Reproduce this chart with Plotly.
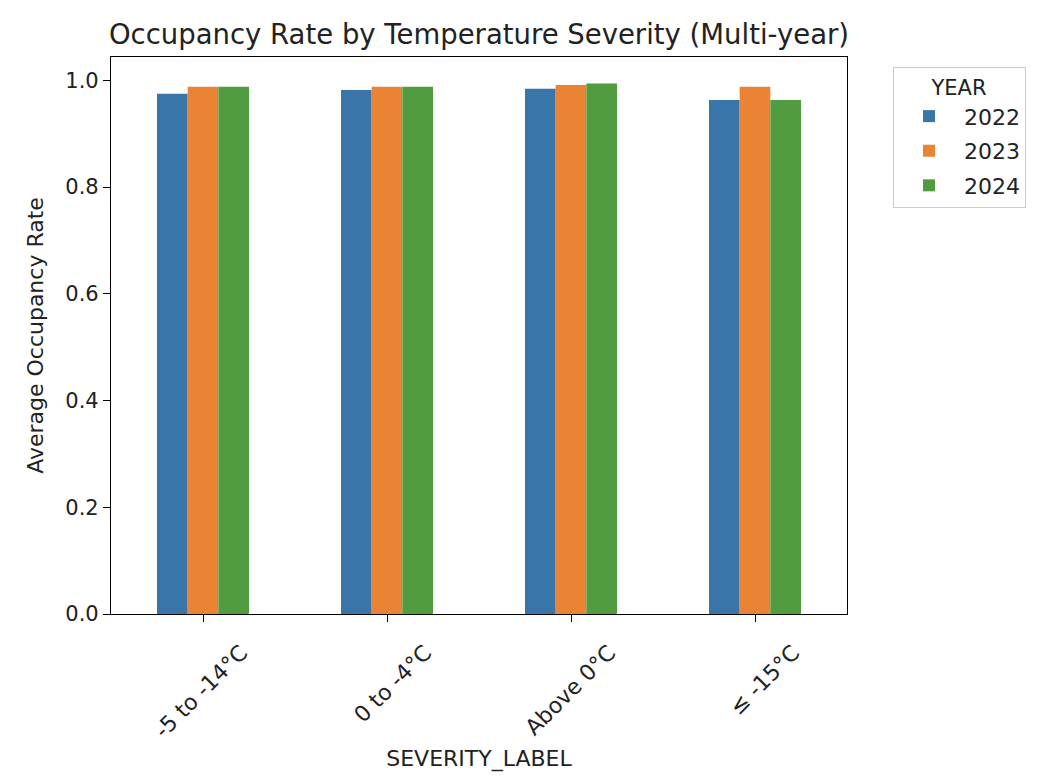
import plotly.graph_objects as go

categories = ["-5 to -14°C", "0 to -4°C", "Above 0°C", "≤ -15°C"]
years = ["2022", "2023", "2024"]
rate_2022 = [0.975, 0.982, 0.984, 0.963]
rate_2023 = [0.988, 0.988, 0.991, 0.988]
rate_2024 = [0.988, 0.988, 0.994, 0.963]
colors = ["#3a75aa", "#ea8334", "#509c3f"]

series = [rate_2022, rate_2023, rate_2024]

fig = go.Figure()
for name, vals, col in zip(years, series, colors):
    fig.add_trace(go.Bar(x=categories, y=vals, name=name, marker_color=col,
                         marker_line_width=0, legendgroup=name))

font = "DejaVu Sans, sans-serif"
fig.update_layout(
    width=1061, height=780,
    margin=dict(l=111, r=214, t=57, b=166),
    paper_bgcolor="white", plot_bgcolor="white",
    barmode="group", bargap=0.5, bargroupgap=0,
    font=dict(family=font, size=22, color="#222222"),
    title=dict(text="Occupancy Rate by Temperature Severity (Multi-year)",
               x=(111 + 847) / 2 / 1061, xanchor="center", y=1 - 34 / 780, yanchor="middle",
               font=dict(size=27.5, color="#222222")),
    legend=dict(title=dict(text="YEAR", side="top center", font=dict(size=21)),
                x=1.0625, xanchor="left", y=0.982, yanchor="top",
                bordercolor="#cccccc", borderwidth=1, font=dict(size=22),
                traceorder="grouped", tracegroupgap=3, itemwidth=60),
)
fig.update_xaxes(showline=True, linecolor="black", linewidth=1.2, mirror=True,
                 ticks="outside", ticklen=7, tickcolor="black", tickangle=-45,
                 ticklabelshift=38, ticklabelstandoff=9, automargin=False,
                 title=dict(text="SEVERITY_LABEL", font=dict(size=22), standoff=8),
                 showgrid=False)
fig.update_yaxes(range=[0, 1.0437], showline=True, linecolor="black", linewidth=1.2, mirror=True,
                 ticks="outside", ticklen=7, tickcolor="black",
                 tickvals=[0, 0.2, 0.4, 0.6, 0.8, 1.0], tickformat=".1f",
                 tickfont=dict(size=21),
                 title=dict(text="Average Occupancy Rate", font=dict(size=22)),
                 showgrid=False, zeroline=False)

fig.write_html("out.html")
